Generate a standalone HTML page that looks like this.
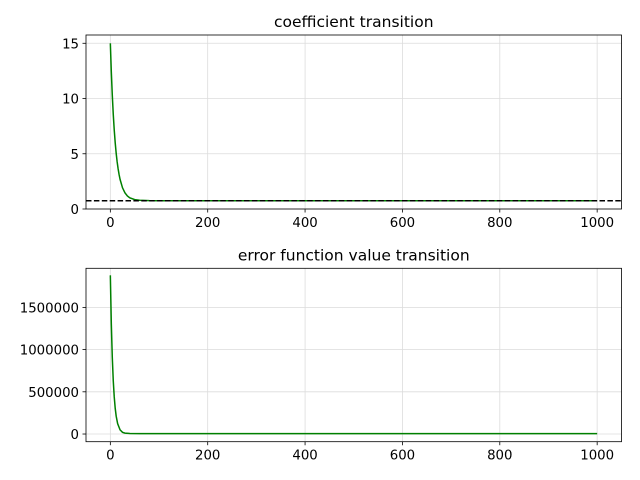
<!DOCTYPE html>
<html><head><meta charset="utf-8">
<style>
html,body{margin:0;padding:0;background:#fff;}
svg{display:block;font-family:"DejaVu Sans","Liberation Sans",sans-serif;}
</style></head>
<body>
<svg id="fig" width="640" height="480" viewBox="0 0 640 480"></svg>
<script>
const coefX = [0,2,4,6,8,10,12,14,16,18,20,25,30,35,40,50,60,80,100,200,400,600,800,1000];
const coefY = [15,12.42,10.30,8.57,7.15,5.99,5.04,4.26,3.63,3.11,2.68,1.92,1.46,1.18,1.01,0.85,0.79,0.755,0.75,0.75,0.75,0.75,0.75,0.75];
const trueCoef = [0.75];
const errX = [0,2,4,6,8,10,12,15,20,25,30,40,60,100,200,400,600,800,1000];
const errY = [1880000,1307000,908000,631000,439000,305000,212000,123000,49000,20000,11000,6000,5000,5000,5000,5000,5000,5000,5000];
const xTicks = [0,200,400,600,800,1000];
const topYTicks = [0,5,10,15];
const botYTicks = [0,500000,1000000,1500000];
const titles = ["coefficient transition","error function value transition"];

const NS="http://www.w3.org/2000/svg";
const svg=document.getElementById('fig');
function mk(tag,attrs,parent){const e=document.createElementNS(NS,tag);for(const k in attrs)e.setAttribute(k,attrs[k]);(parent||svg).appendChild(e);return e;}

function panel(box,xd,yd,yt,title,series,hline,prefix){
  const sx=v=>box.x+(v-xd[0])/(xd[1]-xd[0])*box.w;
  const sy=v=>box.y+box.h-(v-yd[0])/(yd[1]-yd[0])*box.h;
  const g=mk('g',{});
  
  
  xTicks.forEach(t=>{
    const l=mk('line',{x1:sx(t),x2:sx(t),y1:box.y,y2:box.y+box.h,stroke:'#dcdcdc','stroke-width':0.8},g);
    
    
    mk('line',{x1:sx(t),x2:sx(t),y1:box.y+box.h,y2:box.y+box.h+3.5,stroke:'#000','stroke-width':0.8},g);
    const tx=mk('text',{x:sx(t),y:box.y+box.h+18,'text-anchor':'middle','font-size':13.3,fill:'#000'},g);
    tx.textContent=t;
    
    
  });
  yt.forEach(t=>{
    const l=mk('line',{x1:box.x,x2:box.x+box.w,y1:sy(t),y2:sy(t),stroke:'#dcdcdc','stroke-width':0.8},g);
    
    
    mk('line',{x1:box.x-3.5,x2:box.x,y1:sy(t),y2:sy(t),stroke:'#000','stroke-width':0.8},g);
    const tx=mk('text',{x:box.x-7,y:sy(t)+5,'text-anchor':'end','font-size':13.3,fill:'#000'},g);
    tx.textContent=t;
    
    
  });
  const pts=series[0].map((x,i)=>sx(x).toFixed(2)+','+sy(series[1][i]).toFixed(2)).join(' ');
  const pl=mk('polyline',{points:pts,fill:'none',stroke:'#008000','stroke-width':1.5},g);
  
  
  if(hline!==null){
    const hl=mk('line',{x1:box.x,x2:box.x+box.w,y1:sy(hline),y2:sy(hline),stroke:'#000','stroke-width':1.5,'stroke-dasharray':'5.5,2.4'},g);
    
    
  }
  const fr=mk('rect',{x:box.x,y:box.y,width:box.w,height:box.h,fill:'none',stroke:'#000','stroke-width':0.8},g);
  
  
  const ti=mk('text',{x:box.x+box.w/2,y:box.y-8,'text-anchor':'middle','font-size':15.5,fill:'#000'},g);
  ti.textContent=title;
  
  
}
panel({x:86,y:35,w:535.5,h:174},[-50,1050],[0,15.75],topYTicks,titles[0],[coefX,coefY],trueCoef[0],'coefficient');
panel({x:86,y:268.3,w:535.5,h:173.4},[-50,1050],[-91000,1963000],botYTicks,titles[1],[errX,errY],null,'error');
</script>
</body></html>
